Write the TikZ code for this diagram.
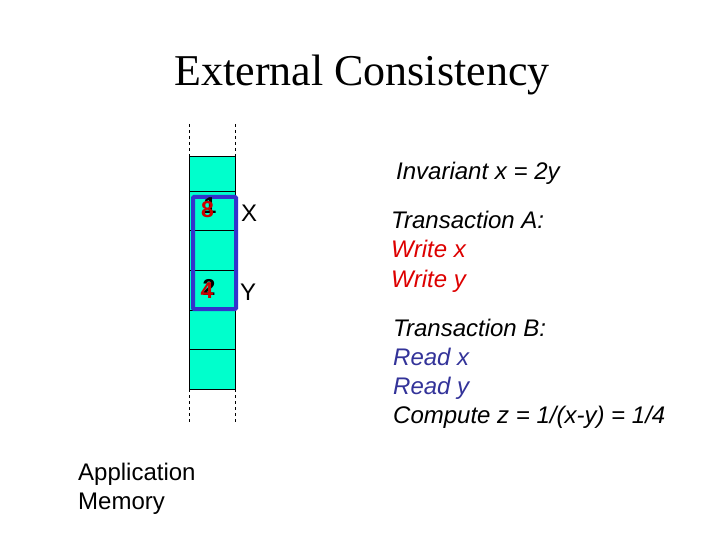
\documentclass[tikz,border=0pt]{standalone}
\usepackage{fontspec}
\setmainfont{Liberation Serif}
\setsansfont{Liberation Sans}
\usetikzlibrary{positioning}
\definecolor{cellcyan}{RGB}{0,255,204}
\definecolor{frameblue}{RGB}{51,51,204}
\definecolor{writered}{RGB}{221,0,0}
\definecolor{digitred}{RGB}{204,0,0}
\definecolor{readblue}{RGB}{51,51,153}
\tikzset{
  txt/.style={anchor=base west,font=\sffamily\itshape\fontsize{24}{29}\selectfont},
  digit/.style={font=\sffamily\bfseries\fontsize{23}{23}\selectfont}
}

\begin{document}
\begin{tikzpicture}[x=1pt,y=-1pt,every node/.style={inner sep=0pt,font=\sffamily\fontsize{24}{29}\selectfont}]
    \useasboundingbox (0,0) rectangle (720,540);
    \node[anchor=base,font=\rmfamily\fontsize{44}{50}\selectfont] (title) at (362,86) {External Consistency};
    % memory column
    \foreach \ya/\yb in {156/191,191/230.5,230.5/270.5,270.5/310.5,310.5/349.5,349.5/389}{\fill[cellcyan] (189,\ya) rectangle (235,\yb); \draw[line width=.8pt] (189,\ya) rectangle (235,\yb);}
    \draw[dashed] (189,124) -- (189,156); \draw[dashed] (235,124) -- (235,156);
    \draw[dashed] (189,389) -- (189,423); \draw[dashed] (235,389) -- (235,423);
    \draw[frameblue,line width=4pt,rounded corners=1pt] (193,197) rectangle (236,309);
    \node[digit] (oldx) at (210,206) {1}; \node[digit,digitred] (newx) at (207.5,210) {8};
    \node[digit] (oldy) at (209,287) {2}; \node[digit,digitred] (newy) at (207,291) {4};
    \node[anchor=base west] (lblx) at (241,222) {X};
    \node[anchor=base west] (lbly) at (240,300) {Y};
    \node[anchor=base west,align=left] (appmem) at (78,509) {Application\\Memory};
    % transactions
    \node[txt] (inv) at (396,180) {Invariant x = 2y};
    \node[txt] (ta) at (391,229) {Transaction A:};
    \node[txt,writered] (wx) at (391,258) {Write x};
    \node[txt,writered] (wy) at (391,287) {Write y};
    \node[txt] (tb) at (393,336) {Transaction B:};
    \node[txt,readblue] (rx) at (393,365) {Read x};
    \node[txt,readblue] (ry) at (393,394) {Read y};
    \node[txt] (cz) at (393,423) {Compute z = 1/(x-y) = 1/4};
  \end{tikzpicture}
\end{document}
